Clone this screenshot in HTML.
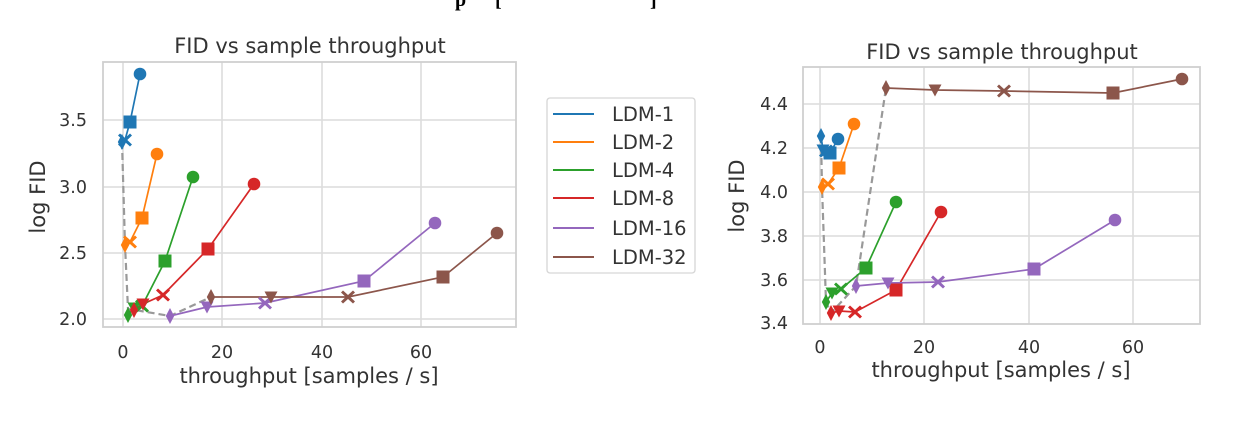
<!DOCTYPE html>
<html><head><meta charset="utf-8"><style>
html,body{margin:0;padding:0;background:#fff;}
svg{display:block;font-family:"DejaVu Sans","Liberation Sans",sans-serif;}
</style></head><body>
<svg width="1240" height="440" viewBox="0 0 1240 440" xmlns="http://www.w3.org/2000/svg">
<defs>
<g id="mo"><circle r="6.3"/></g>
<g id="ms"><rect x="-6.5" y="-6.5" width="13" height="13"/></g>
<g id="mx"><path d="M-5,-6.5 L0,-2 L5,-6.5 L7,-4.5 L2.3,0 L7,4.5 L5,6.5 L0,2 L-5,6.5 L-7,4.5 L-2.3,0 L-7,-4.5 Z"/></g>
<g id="mv"><path d="M-6.5,-5.5 L6.5,-5.5 L0,6.5 Z"/></g>
<g id="md"><path d="M0,-8 L4.2,0 L0,8 L-4.2,0 Z"/></g>
</defs>
<text x="455" y="6" font-family="Liberation Serif" font-weight="bold" font-size="20" fill="#000">p</text>
<text x="495" y="6" font-family="Liberation Serif" font-weight="bold" font-size="20" fill="#000">[</text>
<text x="650" y="6" font-family="Liberation Serif" font-weight="bold" font-size="20" fill="#000">]</text>

<!-- LEFT CHART -->
<g stroke="#dcdcdc" stroke-width="1.6">
<line x1="123" y1="62" x2="123" y2="327"/><line x1="222" y1="62" x2="222" y2="327"/>
<line x1="322" y1="62" x2="322" y2="327"/><line x1="421" y1="62" x2="421" y2="327"/>
<line x1="103" y1="120" x2="516" y2="120"/><line x1="103" y1="187" x2="516" y2="187"/>
<line x1="103" y1="253" x2="516" y2="253"/><line x1="103" y1="319" x2="516" y2="319"/>
</g>
<rect x="103" y="62" width="413" height="265" fill="none" stroke="#cfcfcf" stroke-width="1.8"/>
<g fill="#333" font-size="17.5">
<text x="123" y="358" text-anchor="middle">0</text><text x="222" y="358" text-anchor="middle">20</text>
<text x="322" y="358" text-anchor="middle">40</text><text x="421" y="358" text-anchor="middle">60</text>
<text x="87" y="126" text-anchor="end">3.5</text><text x="87" y="193" text-anchor="end">3.0</text>
<text x="87" y="259" text-anchor="end">2.5</text><text x="87" y="325" text-anchor="end">2.0</text>
</g>
<text x="310" y="53" text-anchor="middle" font-size="21" fill="#333">FID vs sample throughput</text>
<text x="309" y="383" text-anchor="middle" font-size="21" fill="#333">throughput [samples / s]</text>
<text transform="translate(45,197) rotate(-90)" text-anchor="middle" font-size="21" fill="#333">log FID</text>

<polyline points="122,142 125,245 128,309 135,310 170,316 211,297" fill="none" stroke="#999" stroke-width="2.2" stroke-dasharray="7,4"/>

<g stroke-width="1.7" fill="none">
<polyline stroke="#1f77b4" points="122,142 125,140 130,122 140,74"/>
<polyline stroke="#ff7f0e" points="125,245 130,242 142,218 157,154"/>
<polyline stroke="#2ca02c" points="128,315 134,308 142,306 165,261 193,177"/>
<polyline stroke="#d62728" points="134,310 143,304 163,295 208,249 254,184"/>
<polyline stroke="#9467bd" points="170,316 207,307 265,303 364,281 435,223"/>
<polyline stroke="#8c564b" points="211,297 271,297 348,297 443,277 497,233"/>
</g>
<g fill="#1f77b4"><use href="#md" x="122" y="142"/><use href="#mx" x="125" y="140"/><use href="#ms" x="130" y="122"/><use href="#mo" x="140" y="74"/></g>
<g fill="#ff7f0e"><use href="#md" x="125" y="245"/><use href="#mx" x="130" y="242"/><use href="#ms" x="142" y="218"/><use href="#mo" x="157" y="154"/></g>
<g fill="#2ca02c"><use href="#md" x="128" y="315"/><use href="#mv" x="134" y="308"/><use href="#mx" x="142" y="306"/><use href="#ms" x="165" y="261"/><use href="#mo" x="193" y="177"/></g>
<g fill="#d62728"><use href="#md" x="134" y="310"/><use href="#mv" x="143" y="304"/><use href="#mx" x="163" y="295"/><use href="#ms" x="208" y="249"/><use href="#mo" x="254" y="184"/></g>
<g fill="#9467bd"><use href="#md" x="170" y="316"/><use href="#mv" x="207" y="307"/><use href="#mx" x="265" y="303"/><use href="#ms" x="364" y="281"/><use href="#mo" x="435" y="223"/></g>
<g fill="#8c564b"><use href="#md" x="211" y="297"/><use href="#mv" x="271" y="297"/><use href="#mx" x="348" y="297"/><use href="#ms" x="443" y="277"/><use href="#mo" x="497" y="233"/></g>

<!-- LEGEND -->
<rect x="547" y="98" width="148" height="175" rx="3" fill="#fff" stroke="#d6d6d6" stroke-width="1.3"/>
<g stroke-width="2">
<line x1="553" y1="114" x2="594" y2="114" stroke="#1f77b4"/>
<line x1="553" y1="142" x2="594" y2="142" stroke="#ff7f0e"/>
<line x1="553" y1="170" x2="594" y2="170" stroke="#2ca02c"/>
<line x1="553" y1="198" x2="594" y2="198" stroke="#d62728"/>
<line x1="553" y1="228" x2="594" y2="228" stroke="#9467bd"/>
<line x1="553" y1="257" x2="594" y2="257" stroke="#8c564b"/>
</g>
<g fill="#333" font-size="19.5">
<text x="612" y="121">LDM-1</text><text x="612" y="149">LDM-2</text><text x="612" y="177">LDM-4</text>
<text x="612" y="205">LDM-8</text><text x="612" y="235">LDM-16</text><text x="612" y="264">LDM-32</text>
</g>

<!-- RIGHT CHART -->
<g stroke="#dcdcdc" stroke-width="1.6">
<line x1="820" y1="67" x2="820" y2="324"/><line x1="924" y1="67" x2="924" y2="324"/>
<line x1="1029" y1="67" x2="1029" y2="324"/><line x1="1133" y1="67" x2="1133" y2="324"/>
<line x1="803" y1="104" x2="1200" y2="104"/><line x1="803" y1="148" x2="1200" y2="148"/>
<line x1="803" y1="192" x2="1200" y2="192"/><line x1="803" y1="236" x2="1200" y2="236"/>
<line x1="803" y1="280" x2="1200" y2="280"/>
</g>
<rect x="803" y="67" width="397" height="257" fill="none" stroke="#cfcfcf" stroke-width="1.8"/>
<g fill="#333" font-size="17.5">
<text x="820" y="353" text-anchor="middle">0</text><text x="924" y="353" text-anchor="middle">20</text>
<text x="1029" y="353" text-anchor="middle">40</text><text x="1133" y="353" text-anchor="middle">60</text>
<text x="788" y="110" text-anchor="end">4.4</text><text x="788" y="154" text-anchor="end">4.2</text>
<text x="788" y="198" text-anchor="end">4.0</text><text x="788" y="242" text-anchor="end">3.8</text>
<text x="788" y="286" text-anchor="end">3.6</text><text x="788" y="329" text-anchor="end">3.4</text>
</g>
<text x="1002" y="59" text-anchor="middle" font-size="21" fill="#333">FID vs sample throughput</text>
<text x="1001" y="377" text-anchor="middle" font-size="21" fill="#333">throughput [samples / s]</text>
<text transform="translate(744,196) rotate(-90)" text-anchor="middle" font-size="21" fill="#333">log FID</text>

<polyline points="821,136 822,187 826,302 831,313 856,286 886,88" fill="none" stroke="#999" stroke-width="2.2" stroke-dasharray="7,4"/>
<g stroke-width="1.7" fill="none">
<polyline stroke="#1f77b4" points="821,136 823,150 826,151 830,153 838,139"/>
<polyline stroke="#ff7f0e" points="822,187 828,184 839,168 854,124"/>
<polyline stroke="#2ca02c" points="826,302 832,293 841,289 866,268 896,202"/>
<polyline stroke="#d62728" points="831,313 839,311 855,312 896,290 941,212"/>
<polyline stroke="#9467bd" points="856,286 888,283 938,282 1034,269 1115,220"/>
<polyline stroke="#8c564b" points="886,88 935,90 1004,91 1113,93 1182,79"/>
</g>
<g fill="#1f77b4"><use href="#md" x="821" y="136"/><use href="#mv" x="823" y="150"/><use href="#mx" x="826" y="151"/><use href="#ms" x="830" y="153"/><use href="#mo" x="838" y="139"/></g>
<g fill="#ff7f0e"><use href="#md" x="822" y="187"/><use href="#mx" x="828" y="184"/><use href="#ms" x="839" y="168"/><use href="#mo" x="854" y="124"/></g>
<g fill="#2ca02c"><use href="#md" x="826" y="302"/><use href="#mv" x="832" y="293"/><use href="#mx" x="841" y="289"/><use href="#ms" x="866" y="268"/><use href="#mo" x="896" y="202"/></g>
<g fill="#d62728"><use href="#md" x="831" y="313"/><use href="#mv" x="839" y="311"/><use href="#mx" x="855" y="312"/><use href="#ms" x="896" y="290"/><use href="#mo" x="941" y="212"/></g>
<g fill="#9467bd"><use href="#md" x="856" y="286"/><use href="#mv" x="888" y="283"/><use href="#mx" x="938" y="282"/><use href="#ms" x="1034" y="269"/><use href="#mo" x="1115" y="220"/></g>
<g fill="#8c564b"><use href="#md" x="886" y="88"/><use href="#mv" x="935" y="90"/><use href="#mx" x="1004" y="91"/><use href="#ms" x="1113" y="93"/><use href="#mo" x="1182" y="79"/></g>
</svg>
</body></html>
